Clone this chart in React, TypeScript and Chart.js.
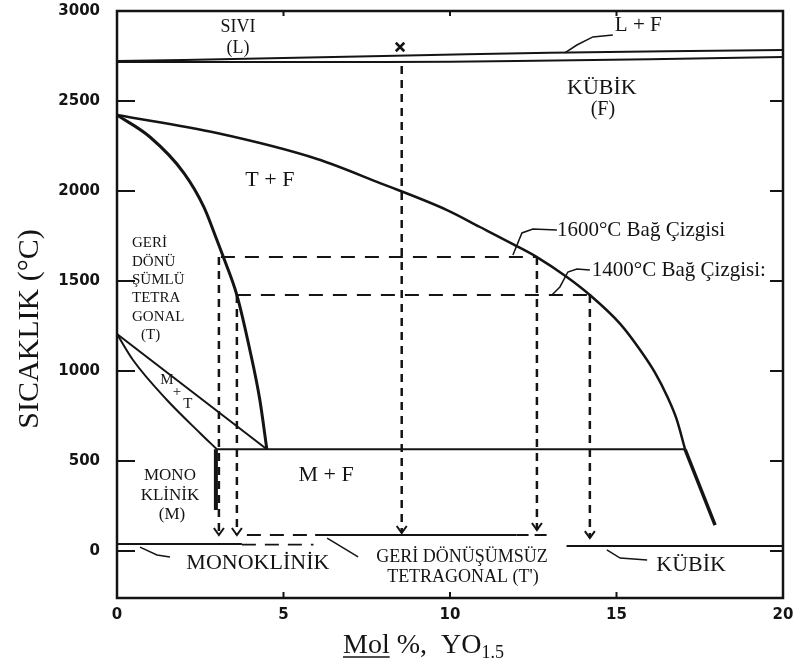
import { useEffect, useRef } from 'react';
import { Chart, ChartConfiguration, Plugin, registerables } from 'chart.js';

Chart.register(...registerables);

// x: mol % YO1.5, y: temperature (°C)
const xTickValues = [0, 5, 10, 15, 20];
const yTickValues = [0, 500, 1000, 1500, 2000, 2500, 3000];

const liquidusX = [0, 2, 8, 13, 20];
const liquidusY = [2722, 2728, 2750, 2768, 2783];
const solidusX = [0, 8, 12, 20];
const solidusY = [2717, 2717, 2722, 2744];

const cubicSolvusX = [0, 3.0, 6.01, 7.9, 9.91, 10.9, 11.89, 12.61, 13.51, 14.2, 15.11, 15.71, 16.16, 16.52, 16.8, 17.06];
const cubicSolvusY = [2422, 2322, 2178, 2044, 1894, 1800, 1705, 1633, 1522, 1422, 1262, 1117, 990, 860, 735, 565];
const cubicTailX = [17.06, 17.96];
const cubicTailY = [565, 144];

const tetraSolvusX = [0, 0.99, 2.01, 2.61, 3.0, 3.18, 3.6, 3.99, 4.29, 4.5];
const tetraSolvusY = [2422, 2300, 2100, 1911, 1728, 1640, 1422, 1117, 839, 565];

const eutectoidX = [3.0, 17.06];
const eutectoidY = [565, 565];

const mtUpperX = [0, 4.5];
const mtUpperY = [1205, 565];
const mtLowerX = [0, 0.48, 1.5, 2.49, 3.0];
const mtLowerY = [1205, 1061, 839, 656, 565];
const monoEdgeX = [2.97, 2.97];
const monoEdgeY = [565, 228];

const tie1600X = [3.12, 12.61];
const tie1600Y = [1633, 1633];
const tie1400X = [3.6, 14.2];
const tie1400Y = [1422, 1422];

// vertical arrows: x position, start temp, end temp
const arrowX = [3.06, 3.6, 8.55, 12.61, 14.2];
const arrowFrom = [1633, 1422, 2694, 1633, 1422];
const arrowTo = [89, 89, 100, 117, 72];

const monoLineX = [0, 3.75];
const monoLineY = [39, 39];
const monoDashX = [3.75, 5.9];
const monoDashY = [36, 36];
const tPrimeDashLX = [3.9, 5.95];
const tPrimeSolidX = [5.95, 12.0];
const tPrimeDashRX = [12.0, 12.95];
const tPrimeY = [89, 89];
const cubicLineX = [13.5, 20];
const cubicLineY = [28, 28];

const leaderMonoX = [0.69, 1.2, 1.59];
const leaderMonoY = [22, -22, -33];
const leaderTPrimeX = [6.31, 7.24];
const leaderTPrimeY = [72, -33];
const leaderCubicX = [14.71, 15.11, 15.92];
const leaderCubicY = [6, -39, -50];
const leaderLFX = [13.45, 13.81, 14.29, 14.89];
const leaderLFY = [2767, 2811, 2856, 2867];
const leader1600X = [11.89, 12.16, 12.49, 13.21];
const leader1600Y = [1644, 1767, 1789, 1783];
const leader1400X = [13.06, 13.3, 13.54, 13.81, 14.2];
const leader1400Y = [1422, 1467, 1550, 1567, 1561];

const crossX = [8.5];
const crossY = [2800];

const notes = [
  { text: 'SIVI', x: 3.63, y: 2911, size: 18 },
  { text: '(L)', x: 3.63, y: 2794, size: 18 },
  { text: 'L + F', x: 14.95, y: 2922, size: 21, align: 'left' },
  { text: 'KÜBİK', x: 14.56, y: 2572, size: 22 },
  { text: '(F)', x: 14.59, y: 2450, size: 20 },
  { text: 'T + F', x: 4.59, y: 2061, size: 22 },
  { text: 'M + F', x: 6.28, y: 422, size: 22 },
  { text: '1600°C Bağ Çizgisi', x: 13.21, y: 1783, size: 21, align: 'left' },
  { text: '1400°C Bağ Çizgisi:', x: 14.26, y: 1561, size: 21, align: 'left' },
  { text: 'GERİ', x: 0.45, y: 1711, size: 15, align: 'left' },
  { text: 'DÖNÜ', x: 0.45, y: 1606, size: 15, align: 'left' },
  { text: 'ŞÜMLÜ', x: 0.45, y: 1506, size: 15, align: 'left' },
  { text: 'TETRA', x: 0.45, y: 1406, size: 15, align: 'left' },
  { text: 'GONAL', x: 0.45, y: 1300, size: 15, align: 'left' },
  { text: '(T)', x: 0.72, y: 1200, size: 15, align: 'left' },
  { text: 'M', x: 1.5, y: 950, size: 15 },
  { text: '+', x: 1.8, y: 883, size: 15 },
  { text: 'T', x: 2.13, y: 817, size: 15 },
  { text: 'MONO', x: 1.59, y: 422, size: 17 },
  { text: 'KLİNİK', x: 1.59, y: 311, size: 17 },
  { text: '(M)', x: 1.65, y: 200, size: 17 },
  { text: 'MONOKLİNİK', x: 4.23, y: -67, size: 22 },
  { text: 'GERİ DÖNÜŞÜMSÜZ', x: 10.36, y: -33, size: 18 },
  { text: "TETRAGONAL (T')", x: 10.39, y: -144, size: 18 },
  { text: 'KÜBİK', x: 17.24, y: -78, size: 22 },
];

const ink = '#141414';
const serif = '"Liberation Serif", "Times New Roman", serif';

const pts = (xs: number[], ys: number[]) => xs.map((x, i) => ({ x, y: ys[i] }));

const line = (xs: number[], ys: number[], width: number, extra: Record<string, unknown> = {}) => ({
  data: pts(xs, ys),
  showLine: true,
  borderColor: ink,
  borderWidth: width,
  pointRadius: 0,
  ...extra,
});

const frameAndTicks: Plugin = {
  id: 'frameAndTicks',
  afterDraw(chart) {
    const { ctx, chartArea: a, scales } = chart;
    const x = scales.x;
    const y = scales.y;
    ctx.save();
    ctx.strokeStyle = ink;
    ctx.lineWidth = 2.5;
    ctx.strokeRect(a.left, a.top, a.right - a.left, a.bottom - a.top);
    ctx.lineWidth = 2;
    ctx.beginPath();
    yTickValues.filter(v => v < 3000).forEach(v => {
      const py = y.getPixelForValue(v);
      ctx.moveTo(a.left, py);
      ctx.lineTo(a.left + 18, py);
      ctx.moveTo(a.right - 13, py);
      ctx.lineTo(a.right, py);
    });
    xTickValues.filter(v => v > 0 && v < 20).forEach(v => {
      const px = x.getPixelForValue(v);
      ctx.moveTo(px, a.bottom);
      ctx.lineTo(px, a.bottom - 6);
      ctx.moveTo(px, a.top);
      ctx.lineTo(px, a.top + 5);
    });
    ctx.stroke();
    ctx.restore();
  },
};

const arrowHeads: Plugin = {
  id: 'arrowHeads',
  afterDatasetsDraw(chart) {
    const { ctx } = chart;
    ctx.save();
    ctx.strokeStyle = ink;
    ctx.lineWidth = 2;
    chart.data.datasets.forEach((ds: any, i) => {
      if (!ds.arrow) return;
      const meta = chart.getDatasetMeta(i);
      const tip = meta.data[meta.data.length - 1];
      ctx.beginPath();
      ctx.moveTo(tip.x - 5, tip.y - 7);
      ctx.lineTo(tip.x, tip.y);
      ctx.lineTo(tip.x + 5, tip.y - 7);
      ctx.stroke();
    });
    ctx.restore();
  },
};

const textNotes: Plugin = {
  id: 'textNotes',
  afterDraw(chart) {
    const { ctx, scales } = chart;
    ctx.save();
    ctx.fillStyle = ink;
    ctx.textBaseline = 'middle';
    notes.forEach(n => {
      ctx.font = `${n.size}px ${serif}`;
      ctx.textAlign = (n.align as CanvasTextAlign) || 'center';
      ctx.fillText(n.text, scales.x.getPixelForValue(n.x), scales.y.getPixelForValue(n.y));
    });

    // y axis title
    ctx.save();
    ctx.translate(30, 329);
    ctx.rotate(-Math.PI / 2);
    ctx.textAlign = 'center';
    ctx.font = `30px ${serif}`;
    ctx.fillText('SICAKLIK (°C)', 0, 0);
    ctx.restore();

    // x axis title: underlined "Mol" and subscript "1.5"
    ctx.textAlign = 'left';
    ctx.textBaseline = 'alphabetic';
    ctx.font = `28px ${serif}`;
    let cx = 343;
    const base = 653;
    const mol = 'Mol';
    ctx.fillText(mol, cx, base);
    const molW = ctx.measureText(mol).width;
    ctx.lineWidth = 1.5;
    ctx.strokeStyle = ink;
    ctx.beginPath();
    ctx.moveTo(cx, base + 4);
    ctx.lineTo(cx + molW, base + 4);
    ctx.stroke();
    cx += molW;
    const rest = ' %,  YO';
    ctx.fillText(rest, cx, base);
    cx += ctx.measureText(rest).width;
    ctx.font = `18px ${serif}`;
    ctx.fillText('1.5', cx, base + 5);
    ctx.restore();
  },
};

const PhaseDiagram = () => {
  const chartRef = useRef<HTMLCanvasElement>(null);
  const chartInstanceRef = useRef<Chart | null>(null);

  useEffect(() => {
    document.body.style.margin = '0';
    if (!chartRef.current) return;
    const ctx = chartRef.current.getContext('2d');
    if (!ctx) return;

    if (chartInstanceRef.current) {
      chartInstanceRef.current.destroy();
    }

    const arrows = arrowX.map((ax, i) =>
      line([ax, ax], [arrowFrom[i], arrowTo[i]], 2.5, { borderDash: [8, 6], arrow: true })
    );

    const config: ChartConfiguration<'scatter'> = {
      type: 'scatter',
      data: {
        datasets: [
          line(liquidusX, liquidusY, 2, { tension: 0.3 }),
          line(solidusX, solidusY, 2, { tension: 0.3 }),
          line(cubicSolvusX, cubicSolvusY, 2.5, { cubicInterpolationMode: 'monotone' }),
          line(cubicTailX, cubicTailY, 3.5),
          line(tetraSolvusX, tetraSolvusY, 3, { cubicInterpolationMode: 'monotone' }),
          line(eutectoidX, eutectoidY, 2),
          line(mtUpperX, mtUpperY, 2),
          line(mtLowerX, mtLowerY, 2, { cubicInterpolationMode: 'monotone' }),
          line(monoEdgeX, monoEdgeY, 4),
          line(tie1600X, tie1600Y, 2, { borderDash: [14, 10] }),
          line(tie1400X, tie1400Y, 2, { borderDash: [14, 10] }),
          ...arrows,
          line(monoLineX, monoLineY, 1.8),
          line(monoDashX, monoDashY, 1.8, { borderDash: [14, 9] }),
          line(tPrimeDashLX, tPrimeY, 1.8, { borderDash: [14, 9] }),
          line(tPrimeSolidX, tPrimeY, 1.8),
          line(tPrimeDashRX, tPrimeY, 1.8, { borderDash: [12, 6] }),
          line(cubicLineX, cubicLineY, 1.8),
          line(leaderMonoX, leaderMonoY, 1.5),
          line(leaderTPrimeX, leaderTPrimeY, 1.5),
          line(leaderCubicX, leaderCubicY, 1.5),
          line(leaderLFX, leaderLFY, 1.5),
          line(leader1600X, leader1600Y, 1.5),
          line(leader1400X, leader1400Y, 1.5),
          {
            data: pts(crossX, crossY),
            showLine: false,
            pointStyle: 'crossRot',
            pointRadius: 6,
            pointBorderWidth: 2.5,
            pointBorderColor: ink,
          },
        ] as any,
      },
      options: {
        animation: false,
        responsive: true,
        maintainAspectRatio: false,
        events: [],
        layout: { padding: { top: 11, right: 16, left: 0, bottom: 0 } },
        plugins: {
          legend: { display: false },
          tooltip: { enabled: false },
        },
        scales: {
          x: {
            type: 'linear',
            min: 0,
            max: 20,
            grid: { display: false },
            border: { display: false },
            afterBuildTicks: scale => {
              scale.ticks = xTickValues.map(value => ({ value }));
            },
            afterFit: (scale: any) => {
              scale.height = 67;
              scale.paddingLeft = 0;
              scale.paddingRight = 0;
            },
            ticks: {
              padding: 0,
              color: ink,
              font: { family: '"DejaVu Sans", sans-serif', weight: 'bold', size: 15 },
              callback: v => String(v),
            },
          },
          y: {
            type: 'linear',
            min: -261,
            max: 3000,
            grid: { display: false },
            border: { display: false },
            afterBuildTicks: scale => {
              scale.ticks = yTickValues.map(value => ({ value }));
            },
            afterFit: (scale: any) => {
              scale.width = 117;
              scale.paddingTop = 0;
              scale.paddingBottom = 0;
            },
            ticks: {
              padding: 9,
              color: ink,
              font: { family: '"DejaVu Sans", sans-serif', weight: 'bold', size: 15 },
              callback: v => String(v),
            },
          },
        },
      },
      plugins: [frameAndTicks, arrowHeads, textNotes],
    };

    chartInstanceRef.current = new Chart(ctx, config);

    return () => {
      if (chartInstanceRef.current) {
        chartInstanceRef.current.destroy();
        chartInstanceRef.current = null;
      }
    };
  }, []);

  return (
    <div style={{ position: 'relative', width: 799, height: 665, background: '#fff' }}>
      <canvas ref={chartRef}></canvas>
    </div>
  );
};

export default function App() {
  return <PhaseDiagram />;
}
